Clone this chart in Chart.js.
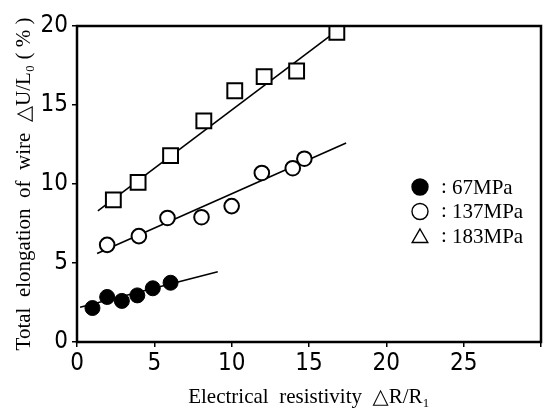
<!DOCTYPE html>
<html>
<head>
<meta charset="utf-8">
<script src="https://cdn.jsdelivr.net/npm/chart.js@4/dist/chart.umd.min.js"></script>
<style>
  html, body { margin: 0; padding: 0; background: #fff; overflow: hidden; }
  #wrap { width: 544px; height: 420px; }
  canvas { display: block; }
</style>
</head>
<body>
<div id="wrap"><canvas id="chart"></canvas></div>
<script>
// data
const xTicks = [0, 5, 10, 15, 20, 25];
const yTicks = [0, 5, 10, 15, 20];

const seriesNames = ['67MPa', '137MPa', '183MPa'];

const r67X = [1.0, 1.95, 2.9, 3.9, 4.9, 6.05];
const r67Y = [2.15, 2.85, 2.6, 2.95, 3.4, 3.75];

const r137X = [1.95, 4.0, 5.85, 8.05, 10.0, 11.95, 13.95, 14.7];
const r137Y = [6.15, 6.7, 7.85, 7.9, 8.6, 10.7, 11.0, 11.6];

const r183X = [2.35, 3.95, 6.05, 8.2, 10.2, 12.1, 14.2, 16.8];
const r183Y = [9.0, 10.1, 11.8, 14.0, 15.9, 16.8, 17.15, 19.6];

// fitted straight lines (end points)
const fit67X = [0.2, 9.1];
const fit67Y = [2.2, 4.45];
const fit137X = [1.3, 17.4];
const fit137Y = [5.6, 12.6];
const fit183X = [1.35, 16.6];
const fit183Y = [8.3, 19.55];

function pts(xs, ys) {
    return xs.map((x, i) => ({ x: x, y: ys[i] }));
}

const serif = "'Liberation Serif', 'DejaVu Serif', serif";
const tickFont = "'DejaVu Sans Condensed', sans-serif";

function fitLine(xs, ys) {
    return {
        data: pts(xs, ys),
        showLine: true,
        borderColor: '#000',
        borderWidth: 1.6,
        pointRadius: 0,
        order: 2
    };
}

// stretch the plot box out to the right edge, like the original frame
const stretchRight = {
    id: 'stretchRight',
    afterLayout(chart) {
        const a = chart.chartArea;
        const xs = chart.scales.x;
        a.right = chart.width - 3;
        a.width = a.right - a.left;
        xs.right = a.right;
        xs.width = a.right - xs.left;
        xs.configure();
    }
};

// full frame round the plot
const frame = {
    id: 'frame',
    afterDatasetsDraw(chart) {
        const a = chart.chartArea;
        const ctx = chart.ctx;
        ctx.save();
        ctx.strokeStyle = '#000';
        ctx.lineWidth = 2.5;
        ctx.strokeRect(a.left, a.top, a.right - a.left, a.bottom - a.top);
        ctx.restore();
    }
};

// legend drawn inside the plot, triangle marker as in the original
const legendBox = {
    id: 'legendBox',
    afterDraw(chart) {
        const ctx = chart.ctx;
        const styles = [
            { pointStyle: 'circle', radius: 8, fill: '#000' },
            { pointStyle: 'circle', radius: 8, fill: '#fff' },
            { pointStyle: 'triangle', radius: 9, fill: '#fff' }
        ];
        const x0 = 420, y0 = 187, dy = 24.5;
        ctx.save();
        seriesNames.forEach((name, i) => {
            const y = y0 + i * dy;
            ctx.fillStyle = styles[i].fill;
            ctx.strokeStyle = '#000';
            ctx.lineWidth = 1.4;
            Chart.helpers.drawPoint(ctx, {
                pointStyle: styles[i].pointStyle,
                radius: styles[i].radius,
                rotation: 0,
                borderWidth: 1.4
            }, x0, y + (i === 2 ? 2 : 0));
            ctx.fillStyle = '#000';
            ctx.font = '21px ' + serif;
            ctx.textBaseline = 'middle';
            ctx.fillText(':', 441, y);
            ctx.fillText(name, 452, y + 1);
        });
        ctx.restore();
    }
};

new Chart(document.getElementById('chart'), {
    type: 'scatter',
    data: {
        datasets: [
            {
                label: seriesNames[0],
                data: pts(r67X, r67Y),
                pointStyle: 'circle',
                pointRadius: 7.5,
                backgroundColor: '#000',
                borderColor: '#000',
                borderWidth: 1,
                order: 1
            },
            {
                label: seriesNames[1],
                data: pts(r137X, r137Y),
                pointStyle: 'circle',
                pointRadius: 7.3,
                backgroundColor: '#fff',
                borderColor: '#000',
                borderWidth: 2,
                order: 1
            },
            {
                label: seriesNames[2],
                data: pts(r183X, r183Y),
                pointStyle: 'rect',
                pointRadius: 10.5,
                backgroundColor: '#fff',
                borderColor: '#000',
                borderWidth: 2,
                order: 1
            },
            fitLine(fit67X, fit67Y),
            fitLine(fit137X, fit137Y),
            fitLine(fit183X, fit183Y)
        ]
    },
    options: {
        responsive: true,
        maintainAspectRatio: false,
        animation: false,
        layout: { padding: { left: 0, right: 3, top: 26, bottom: 0 } },
        plugins: {
            legend: { display: false },
            tooltip: { enabled: false }
        },
        scales: {
            x: {
                type: 'linear',
                min: 0,
                max: 30,
                afterBuildTicks: s => { s.ticks = xTicks.concat([30]).map(v => ({ value: v })); },
                afterFit: s => { s.height = 78; s.paddingRight = 0; },
                ticks: {
                    color: '#000',
                    padding: 2,
                    maxRotation: 0,
                    font: { family: tickFont, size: 24 },
                    callback: v => (xTicks.includes(v) ? String(v) : '')
                },
                grid: { drawOnChartArea: false, color: '#000', tickLength: 5, lineWidth: 1.5 },
                border: { display: false },
                title: {
                    display: true,
                    text: 'Electrical  resistivity  \u25B3R/R\u2081',
                    color: '#000',
                    font: { family: serif, size: 21 },
                    padding: { top: 0, bottom: 10 }
                }
            },
            y: {
                type: 'linear',
                min: 0,
                max: 20,
                afterBuildTicks: s => { s.ticks = yTicks.map(v => ({ value: v })); },
                afterFit: s => { s.width = 77; },
                ticks: {
                    color: '#000',
                    padding: 4,
                    font: { family: tickFont, size: 24 }
                },
                grid: { drawOnChartArea: false, color: '#000', tickLength: 5, lineWidth: 1.5 },
                border: { display: false },
                title: {
                    display: true,
                    text: 'Total  elongation  of  wire  \u25B3U/L\u2080 ( % )',
                    color: '#000',
                    font: { family: serif, size: 21 },
                    padding: { top: 12, bottom: 0 }
                }
            }
        }
    },
    plugins: [stretchRight, frame, legendBox]
});
</script>
</body>
</html>
